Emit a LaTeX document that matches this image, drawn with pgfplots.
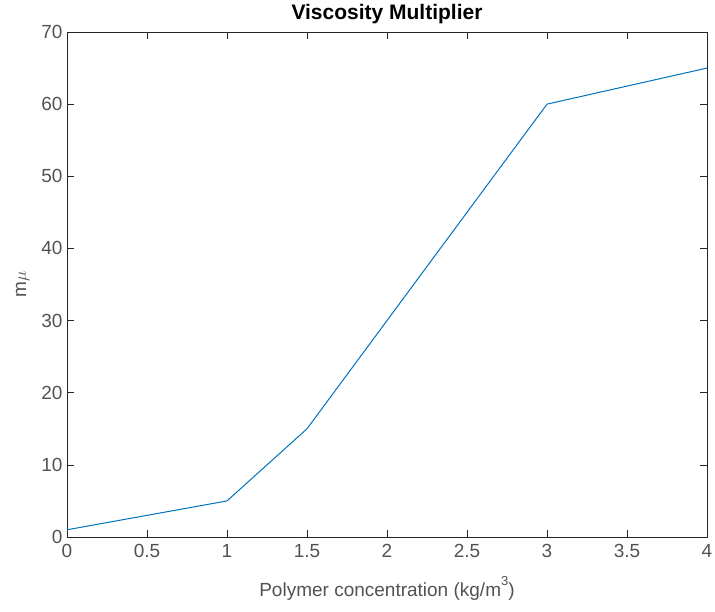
\documentclass[border=0pt]{standalone}
\usepackage{pgfplots}
\pgfplotsset{compat=1.18}
\usepackage{fontspec}
\setmainfont{Liberation Sans}
\definecolor{mblue}{rgb}{0,0.447,0.741}
\definecolor{mgray}{rgb}{0.15,0.15,0.15}
\begin{document}
\begin{tikzpicture}
\path[use as bounding box] (-67pt,-74pt) rectangle (648pt,537pt);
\begin{axis}[
  at={(0,0)}, anchor=south west,
  scale only axis, width=640pt, height=505pt,
  xmin=0, xmax=4, ymin=0, ymax=70,
  xtick={0,0.5,...,4}, ytick={0,10,...,70},
  tick align=inside, major tick length=7pt,
  xtick pos=both, ytick pos=both,
  axis line style={mgray, line width=0.6pt},
  tick style={mgray, line width=0.6pt},
  /pgf/number format/assume math mode=true,
  /pgf/number format/.cd, fixed, use period, 1000 sep={}, /pgfplots/.cd,
  tick label style={font=\fontsize{19}{22}\selectfont, text=mgray!80},
  xticklabel style={yshift=-4pt},
  yticklabel style={xshift=-1pt},
  label style={font=\fontsize{19}{22}\selectfont, text=mgray!80},
  xlabel={Polymer concentration (kg/m\raisebox{0.55em}{\fontsize{13}{14}\selectfont 3})},
  ylabel={m$\mu$},
  xlabel style={yshift=-12pt},
  ylabel style={yshift=5pt},
  title={\textbf{Viscosity Multiplier}},
  title style={font=\fontsize{21}{24}\selectfont, yshift=-1pt},
]
\addplot[mblue, line width=1pt] coordinates {
(0,1) (1,5) (1.5,15) (2,30) (2.5,45) (3,60) (4,65)
};
\end{axis}
\end{tikzpicture}
\end{document}
